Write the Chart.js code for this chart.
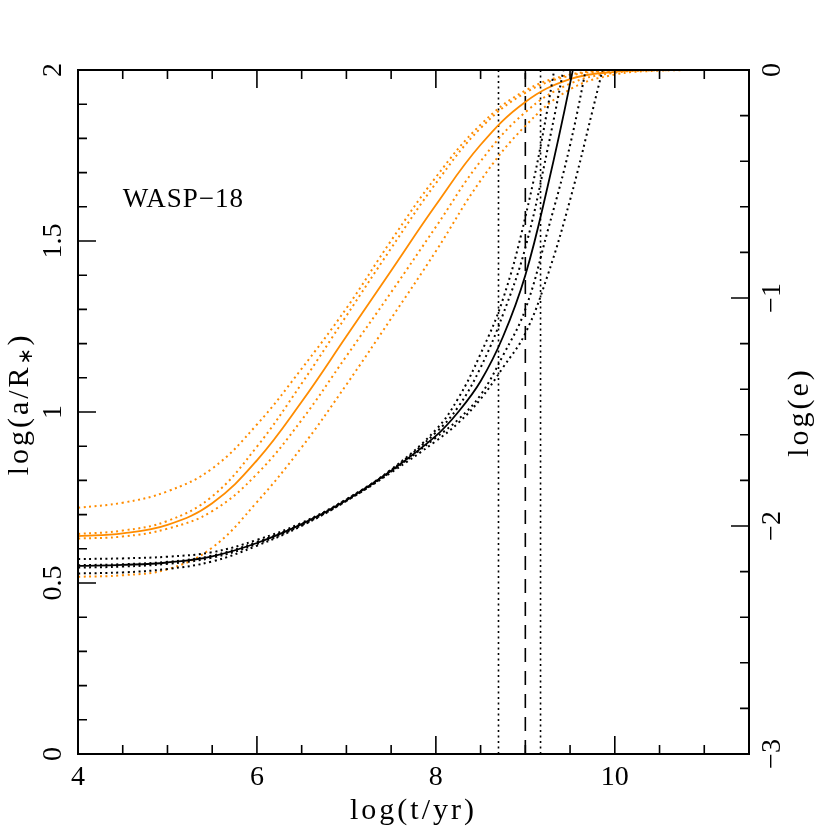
<!DOCTYPE html>
<html>
<head>
<meta charset="utf-8">
<title>WASP-18</title>
<script src="https://cdn.jsdelivr.net/npm/chart.js@4.4.1/dist/chart.umd.min.js"></script>
<style>
  html, body { margin: 0; padding: 0; background: #fff; }
  canvas { display: block; }
</style>
</head>
<body>
<canvas id="chart" width="830" height="830"></canvas>
<script>
// log(t/yr) grid for the eccentricity (orange) curves, right axis
const tOrange = [4, 4.5, 5, 5.5, 6, 6.5, 7, 7.5, 8, 8.5, 9, 9.5, 10, 10.5, 11, 11.5];
const eSolid = [-2.044, -2.032, -1.995, -1.900, -1.712, -1.455, -1.168, -0.880, -0.592, -0.328, -0.140, -0.040, -0.008, 0, 0, 0];
const eDot1 = [-1.920, -1.898, -1.848, -1.748, -1.555, -1.310, -1.045, -0.748, -0.470, -0.240, -0.090, -0.020, -0.002, 0, 0, 0];
const eDot2 = [-2.035, -2.020, -1.978, -1.870, -1.652, -1.375, -1.078, -0.782, -0.497, -0.255, -0.100, -0.025, -0.003, 0, 0, 0];
const eDot3 = [-2.055, -2.046, -2.012, -1.935, -1.772, -1.535, -1.255, -0.975, -0.688, -0.400, -0.185, -0.060, -0.012, -0.001, 0, 0];
const eDot4 = [-2.223, -2.216, -2.190, -2.095, -1.895, -1.655, -1.380, -1.090, -0.795, -0.485, -0.245, -0.085, -0.020, -0.003, 0, 0];

// log(t/yr) grid for the semi-major axis (black) curves, left axis
const tBlack = [4, 4.5, 5, 5.5, 6, 6.5, 7, 7.5, 8, 8.25, 8.5, 8.75, 9, 9.25, 9.5, 9.75, 10];
const aSolid = [0.550, 0.553, 0.560, 0.578, 0.617, 0.672, 0.742, 0.828, 0.930, 1.000, 1.090, 1.220, 1.400, 1.660, 1.960, 2.30, null];
const aDot1 = [0.570, 0.572, 0.577, 0.590, 0.626, 0.676, 0.745, 0.832, 0.948, 1.040, 1.170, 1.330, 1.570, 1.890, 2.30, null, null];
const aDot2 = [0.552, 0.555, 0.562, 0.580, 0.620, 0.673, 0.744, 0.830, 0.940, 1.015, 1.130, 1.285, 1.480, 1.770, 2.10, null, null];
const aDot3 = [0.528, 0.531, 0.541, 0.563, 0.609, 0.667, 0.740, 0.826, 0.925, 0.978, 1.050, 1.165, 1.300, 1.530, 1.780, 2.10, null];
const aDot4 = [0.545, 0.548, 0.556, 0.574, 0.614, 0.669, 0.740, 0.823, 0.915, 0.968, 1.038, 1.130, 1.230, 1.400, 1.620, 1.880, 2.15];

// stellar age: lower limit, best value, upper limit
const ageLines = [8.70, 9.00, 9.17];

// labelled (major) ticks
const xMajor = [4, 6, 8, 10];
const aMajor = [0, 0.5, 1, 1.5, 2];
const eMajor = [-3, -2, -1, 0];

const ORANGE = 'rgb(255,140,0)';
const TICK_FONT = '28px "Liberation Serif", serif';
const TITLE_FONT = '30px "Liberation Serif", serif';

function series(ts, vals) {
  return ts.map((t, i) => ({ x: t, y: vals[i] })).filter(p => p.y !== null);
}

function curve(ts, vals, color, dotted, axis) {
  return {
    data: series(ts, vals),
    yAxisID: axis,
    borderColor: color,
    borderWidth: dotted ? 2 : 1.8,
    borderDash: dotted ? [2, 3.5] : [],
    pointRadius: 0,
    tension: 0.4,
    fill: false
  };
}

function ageLine(t, dash) {
  return {
    data: [{ x: t, y: 0 }, { x: t, y: 2 }],
    yAxisID: 'y',
    borderColor: '#000',
    borderWidth: 1.6,
    borderDash: dash,
    pointRadius: 0,
    fill: false
  };
}

function fmt(v) {
  return String(Math.round(v * 10) / 10).replace('-', '\u2212');
}

function isMajor(v, step) {
  return Math.abs(v / step - Math.round(v / step)) < 1e-6;
}

// inward ticks on all four sides, frame, labels and titles
const framePlugin = {
  id: 'frame',
  afterDatasetsDraw(chart) {
    const { ctx, chartArea: a, scales } = chart;
    const x = scales.x, y = scales.y, y2 = scales.y2;
    ctx.save();
    ctx.strokeStyle = '#000';
    ctx.fillStyle = '#000';

    ctx.lineWidth = 1.6;
    ctx.beginPath();
    x.ticks.forEach(t => {
      const px = x.getPixelForValue(t.value);
      const len = isMajor(t.value, 2) ? 18 : 9;
      ctx.moveTo(px, a.bottom); ctx.lineTo(px, a.bottom - len);
      ctx.moveTo(px, a.top); ctx.lineTo(px, a.top + len);
    });
    y.ticks.forEach(t => {
      const py = y.getPixelForValue(t.value);
      const len = isMajor(t.value, 0.5) ? 18 : 9;
      ctx.moveTo(a.left, py); ctx.lineTo(a.left + len, py);
    });
    y2.ticks.forEach(t => {
      const py = y2.getPixelForValue(t.value);
      const len = isMajor(t.value, 1) ? 18 : 9;
      ctx.moveTo(a.right, py); ctx.lineTo(a.right - len, py);
    });
    ctx.stroke();

    ctx.lineWidth = 2;
    ctx.strokeRect(a.left, a.top, a.right - a.left, a.bottom - a.top);

    // tick labels
    ctx.font = TICK_FONT;
    ctx.textAlign = 'center';
    ctx.textBaseline = 'middle';
    xMajor.forEach(v => {
      ctx.fillText(fmt(v), x.getPixelForValue(v), 778);
    });
    aMajor.forEach(v => {
      ctx.save();
      ctx.translate(54, y.getPixelForValue(v));
      ctx.rotate(-Math.PI / 2);
      ctx.fillText(fmt(v), 0, 0);
      ctx.restore();
    });
    eMajor.forEach(v => {
      ctx.save();
      ctx.translate(773, y2.getPixelForValue(v));
      ctx.rotate(-Math.PI / 2);
      ctx.fillText(fmt(v), 0, 0);
      ctx.restore();
    });

    // axis titles
    ctx.font = TITLE_FONT;
    ctx.letterSpacing = '3px';
    ctx.fillText('log(t/yr)', (a.left + a.right) / 2, 811);

    ctx.save();
    ctx.translate(800, 412);
    ctx.rotate(-Math.PI / 2);
    ctx.fillText('log(e)', 0, 0);
    ctx.restore();

    // log(a/R*) with subscript star
    ctx.save();
    ctx.translate(20, 404);
    ctx.rotate(-Math.PI / 2);
    ctx.textAlign = 'left';
    const p1 = 'log(a/R', p2 = ')';
    const w1 = ctx.measureText(p1).width;
    const w2 = ctx.measureText(p2).width;
    ctx.font = '20px "DejaVu Sans", sans-serif';
    ctx.letterSpacing = '0px';
    const ws = ctx.measureText('\u2217').width + 2;
    const x0 = -(w1 + ws + w2) / 2;
    ctx.fillText('\u2217', x0 + w1, 7);
    ctx.font = TITLE_FONT;
    ctx.letterSpacing = '3px';
    ctx.fillText(p1, x0, 0);
    ctx.fillText(p2, x0 + w1 + ws, 0);
    ctx.restore();

    // planet name
    ctx.font = '27px "Liberation Serif", serif';
    ctx.letterSpacing = '1px';
    ctx.textAlign = 'left';
    ctx.textBaseline = 'alphabetic';
    ctx.fillText('WASP\u221218', x.getPixelForValue(4.5), y.getPixelForValue(1.6));

    ctx.restore();
  }
};

new Chart(document.getElementById('chart'), {
  type: 'line',
  data: {
    datasets: [
      curve(tBlack, aSolid, '#000', false, 'y'),
      curve(tBlack, aDot1, '#000', true, 'y'),
      curve(tBlack, aDot2, '#000', true, 'y'),
      curve(tBlack, aDot3, '#000', true, 'y'),
      curve(tBlack, aDot4, '#000', true, 'y'),
      curve(tOrange, eSolid, ORANGE, false, 'y2'),
      curve(tOrange, eDot1, ORANGE, true, 'y2'),
      curve(tOrange, eDot2, ORANGE, true, 'y2'),
      curve(tOrange, eDot3, ORANGE, true, 'y2'),
      curve(tOrange, eDot4, ORANGE, true, 'y2'),
      ageLine(ageLines[0], [2, 3.5]),
      ageLine(ageLines[1], [14, 9]),
      ageLine(ageLines[2], [2, 3.5])
    ]
  },
  options: {
    responsive: false,
    animation: false,
    layout: { padding: { top: 70, left: 0, right: 0, bottom: 0 } },
    plugins: {
      legend: { display: false },
      tooltip: { enabled: false }
    },
    scales: {
      x: {
        type: 'linear', min: 4, max: 11.5,
        ticks: { display: false, stepSize: 0.5 },
        grid: { display: false }, border: { display: false },
        afterFit(s) { s.height = 76; }
      },
      y: {
        type: 'linear', position: 'left', min: 0, max: 2,
        ticks: { display: false, stepSize: 0.1 },
        grid: { display: false }, border: { display: false },
        afterFit(s) { s.width = 78; }
      },
      y2: {
        type: 'linear', position: 'right', min: -3, max: 0,
        ticks: { display: false, stepSize: 0.2 },
        grid: { display: false }, border: { display: false },
        afterFit(s) { s.width = 81; }
      }
    }
  },
  plugins: [framePlugin]
});
</script>
</body>
</html>
